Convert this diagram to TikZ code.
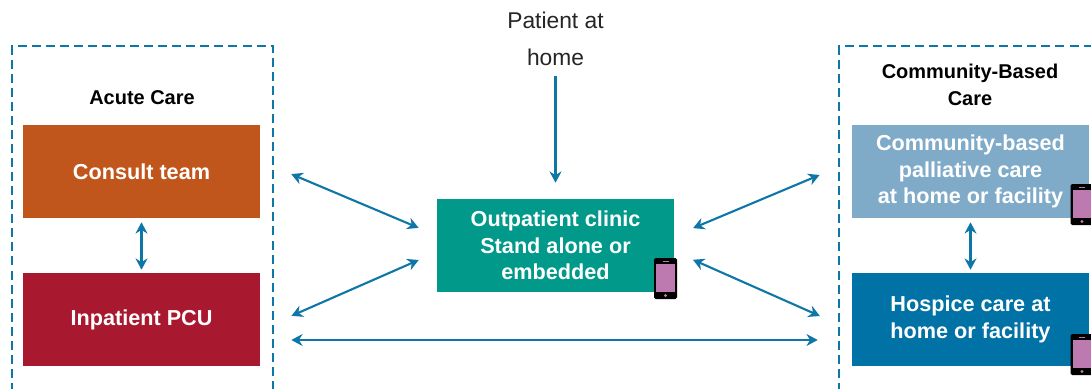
\documentclass[tikz,border=0pt]{standalone}
\usepackage{fontspec}
\setmainfont{Liberation Sans}
\usetikzlibrary{arrows.meta}
\usetikzlibrary{calc}
\definecolor{framecol}{HTML}{0F76A8}
\definecolor{consultcol}{HTML}{C0561C}
\definecolor{inpatientcol}{HTML}{A8182E}
\definecolor{cliniccol}{HTML}{00998A}
\definecolor{communitycol}{HTML}{7FABC9}
\definecolor{hospicecol}{HTML}{0072A6}
\definecolor{screencol}{HTML}{BC7AB0}
\tikzset{
  carebox/.style={minimum width=5.925cm,minimum height=2.325cm,inner sep=0pt,align=center,
    text=white,font=\fontsize{15.4}{18.7}\selectfont\bfseries},
  heading/.style={align=center,text=black,font=\fontsize{14.2}{18.7}\selectfont\bfseries},
  flow/.style={draw=framecol,line width=1.5pt},
  twoway/.style={flow,{Stealth[length=8pt,width=8.5pt]}-{Stealth[length=8pt,width=8.5pt]}},
  oneway/.style={flow,-{Stealth[length=8pt,width=8.5pt]}},
  careframe/.style={draw=framecol,line width=2.1pt,dash pattern=on 6.4pt off 3.6pt}
}
\begin{document}
\begin{tikzpicture}[x=0.025cm,y=-0.025cm]
	\clip (0,0) rectangle (1091,388);
	\fill[white] (0,0) rectangle (1091,388);
	\draw[careframe] (12,392) -- (12,46) -- (273,46) -- (273,392);
	\draw[careframe] (839,392) -- (839,46) -- (1096,46);
	\node[heading] (acute) at (142,98) {Acute Care};
	\node[heading] (based) at (970,85) {Community-Based\\Care};
	\node[align=center,text=black!85,font=\fontsize{16.2}{26.5}\selectfont] (patient) at (555.5,38.5) {Patient at\\home};
	\node[carebox,fill=consultcol] (consult) at (141.5,171.5) {Consult team};
	\node[carebox,fill=inpatientcol] (inpatient) at (141.5,319.5) {Inpatient PCU};
	\node[carebox,fill=cliniccol] (clinic) at (555.5,245.5) {Outpatient clinic\\Stand alone or\\embedded};
	\node[carebox,fill=communitycol] (community) at (970.5,171.5) {Community-based\\palliative care\\at home or facility};
	\node[carebox,fill=hospicecol] (hospice) at (970.5,319.5) {Hospice care at\\home or facility};
	% phones
	\foreach \px/\py in {665.5/278.5, 1082/204.5, 1082/354.5} {
		\fill[black,rounded corners=1.2pt] (\px-11.5,\py-20.5) rectangle (\px+11.5,\py+20.5);
		\fill[screencol] (\px-9.5,\py-14.5) rectangle (\px+9.5,\py+13.5);
		\fill[screencol] (\px,\py+17) circle (1.6);
		\draw[screencol,line width=0.5pt] (\px-3,\py-17.5) -- (\px+3,\py-17.5);
	}
	\draw[twoway,shorten <=0.1cm,shorten >=0.075cm] (consult.south) -- (inpatient.north);
	\draw[twoway,shorten <=0.1cm,shorten >=0.075cm] (community.south) -- (hospice.north);
	\draw[oneway,shorten <=0.15cm,shorten >=0.4cm] (patient.south) -- (clinic.north);
	\draw[twoway,shorten <=0.84cm,shorten >=0.49cm] ($(consult.east)+(0,-10.5)$) -- ($(clinic.west)+(0,-10)$);
	\draw[twoway,shorten <=0.85cm,shorten >=0.49cm] ($(inpatient.east)+(0,10)$) -- ($(clinic.west)+(0,6.6)$);
	\draw[twoway,shorten <=0.51cm,shorten >=0.87cm] ($(clinic.east)+(0,-9.5)$) -- ($(community.west)+(0,-10)$);
	\draw[twoway,shorten <=0.51cm,shorten >=0.87cm] ($(clinic.east)+(0,6)$) -- ($(hospice.west)+(0,10.6)$);
	\draw[twoway,shorten <=0.775cm,shorten >=0.85cm] ($(inpatient.east)+(0,20.5)$) -- ($(hospice.west)+(0,20.5)$);
\end{tikzpicture}
\end{document}
